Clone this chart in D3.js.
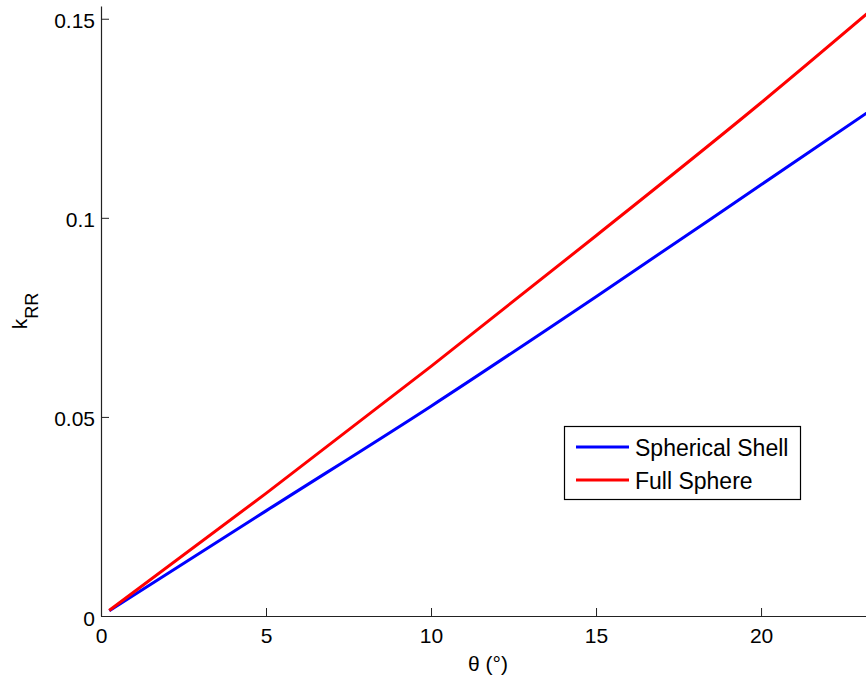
<!DOCTYPE html>
<html><head><meta charset="utf-8">
<script src="https://cdn.jsdelivr.net/npm/d3@7"></script>
<style>body{margin:0;background:#fff;} svg{display:block;}</style>
</head><body>
<svg id="chart" width="866" height="677"></svg>
<script>
const theta = [0.25, 5, 10, 15, 20, 23.5];
const shell = [0.0013, 0.0264, 0.0527, 0.0802, 0.1083, 0.128];
const sphere = [0.0014, 0.0308, 0.0627, 0.0955, 0.1289, 0.1533];
const xTicks = [0, 5, 10, 15, 20];
const yTicks = [0, 0.05, 0.1, 0.15];
const yTickLabels = ["0", "0.05", "0.1", "0.15"];
const seriesNames = ["Spherical Shell", "Full Sphere"];
const seriesColors = ["#0000ff", "#ff0000"];

const svg = d3.select("#chart");
const font = "'Liberation Sans', Arial, Helvetica, sans-serif";
const x = d3.scaleLinear().domain([0, 23.18]).range([101, 866]);
const y = d3.scaleLinear().domain([0, 0.1532]).range([616, 6]);

svg.append("defs").append("clipPath").attr("id","clip")
  .append("rect").attr("x",101).attr("y",6).attr("width",765).attr("height",610);

const line = d3.line().x(d => x(d[0])).y(d => y(d[1])).curve(d3.curveMonotoneX);
const series = [shell, sphere];
series.forEach((vals, i) => {
  svg.append("path")
    .datum(theta.map((t, j) => [t, vals[j]]))
    .attr("d", line).attr("fill","none")
    .attr("stroke", seriesColors[i]).attr("stroke-width", 3)
    .attr("clip-path","url(#clip)");
});

// axes
const xAxis = d3.axisBottom(x).tickValues(xTicks).tickSizeInner(-8).tickSizeOuter(0).tickPadding(12);
const gx = svg.append("g").attr("transform","translate(0,616)").call(xAxis);
const yAxis = d3.axisLeft(y).tickValues(yTicks).tickFormat((d,i)=>yTickLabels[i]).tickSizeInner(-8).tickSizeOuter(0).tickPadding(6);
const gy = svg.append("g").attr("transform","translate(101,0)").call(yAxis);
[gx, gy].forEach(g => {
  g.select(".domain").attr("stroke","#222").attr("stroke-width",1.2);
  g.selectAll(".tick line").attr("stroke","#222").attr("stroke-width",1);
  g.selectAll("text").attr("font-family", font).attr("font-size", 21).attr("fill","#000");
});
gx.selectAll(".tick text").attr("dy","0.71em");
gy.selectAll(".tick text").attr("dy","0.43em");

// axis labels
svg.append("text").attr("x", 488).attr("y", 671).attr("text-anchor","middle")
  .attr("font-family", font).attr("font-size", 21).text("θ (°)");
const yl = svg.append("text").attr("transform","translate(27,311) rotate(-90)")
  .attr("text-anchor","middle").attr("font-family", font).attr("font-size", 21);
yl.append("tspan").text("k");
yl.append("tspan").attr("font-size", 18).attr("dy", 11).text("RR");

// legend
const lg = svg.append("g");
lg.append("rect").attr("x",564.5).attr("y",426.5).attr("width",236).attr("height",73)
  .attr("fill","#fff").attr("stroke","#000").attr("stroke-width",1.2);
seriesNames.forEach((n, i) => {
  const yy = 447 + i*33;
  lg.append("line").attr("x1",576).attr("x2",629).attr("y1",yy).attr("y2",yy)
    .attr("stroke", seriesColors[i]).attr("stroke-width",3);
  lg.append("text").attr("x",635).attr("y",yy).attr("dy","0.38em")
    .attr("font-family", font).attr("font-size", 23).text(n);
});
</script>
</body></html>
